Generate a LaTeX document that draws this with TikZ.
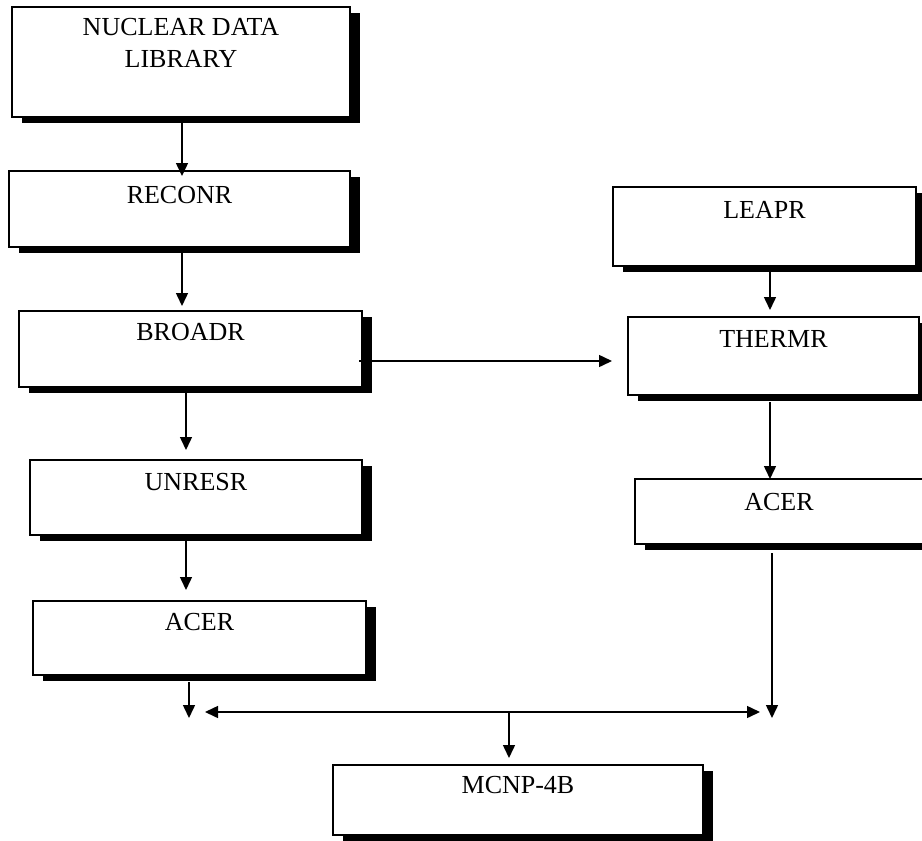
\documentclass[tikz,border=0pt]{standalone}
\usepackage{fontspec}
\setmainfont{Liberation Serif}
\usetikzlibrary{arrows.meta,shadows,calc}
\begin{document}
\begin{tikzpicture}[x=1pt,y=-1pt,
  box/.style={draw,line width=1.8pt,fill=white,anchor=north west,inner xsep=0pt,inner ysep=0pt,outer sep=0pt,
    font=\fontsize{26}{32}\selectfont,
    drop shadow={shadow xshift=10pt,shadow yshift=-6pt,fill=black,opacity=1,draw=none}},
  arr/.style={line width=1.5pt,-{Triangle[width=12pt,length=13pt]}},
  darr/.style={line width=1.5pt,{Triangle[width=12pt,length=13pt]}-{Triangle[width=12pt,length=13pt]}}]
\useasboundingbox[fill=white] (0,0) rectangle (922,841);

% left column
\node[box,minimum width=338pt,text height=28pt,text depth=82pt] (ndl) at (12,7)
  {\parbox[t]{330pt}{\centering NUCLEAR DATA\\LIBRARY}};
\node[box,minimum width=341pt,text height=32pt,text depth=44pt] (reconr) at (9,171) {RECONR};
\node[box,minimum width=343pt,text height=29pt,text depth=47pt] (broadr) at (19,311) {BROADR};
\node[box,minimum width=332pt,text height=30pt,text depth=45pt] (unresr) at (30,460) {UNRESR};
\node[box,minimum width=333pt,text height=29pt,text depth=45pt] (acerl) at (33,601) {ACER};

% right column
\node[box,minimum width=303pt,text height=31pt,text depth=48pt] (leapr) at (613,187) {LEAPR};
\node[box,minimum width=291pt,text height=30pt,text depth=48pt] (thermr) at (628,317) {THERMR};
\node[box,minimum width=288pt,text height=31pt,text depth=34pt] (acerr) at (635,479) {ACER};

% bottom
\node[box,minimum width=370pt,text height=28pt,text depth=42pt] (mcnp) at (333,765) {MCNP-4B};

\coordinate (jl) at (189,718);
\coordinate (jr) at (772,718);
\coordinate (hl) at (205,712);
\coordinate (hr) at (760,712);
\coordinate (jm) at (509,712);

% connectors
\draw[arr] ($(ndl.south)+(1,0)$) -- ($(ndl.south |- reconr.north)+(1,5)$);
\draw[arr] ($(reconr.south)+(2.5,6)$) -- ($(reconr.south |- broadr.north)+(2.5,-5)$);
\draw[arr] ($(broadr.south)+(-4.5,6)$) -- ($(broadr.south |- unresr.north)+(-4.5,-10)$);
\draw[arr] ($(unresr.south)+(-10,6)$) -- ($(unresr.south |- acerl.north)+(-10,-11)$);
\draw[arr] ($(acerl.south)+(-10.5,7)$) -- (jl);
\draw[arr] ($(broadr.east)+(-3,12)$) -- ($(thermr.west)+(-16,5)$);
\draw[arr] ($(leapr.south)+(5.5,6)$) -- ($(leapr.south |- thermr.north)+(5.5,-7)$);
\draw[arr] ($(thermr.south)+(-3.5,7)$) -- ($(thermr.south |- acerr.north)+(-3.5,0)$);
\draw[arr] ($(acerr.south)+(-7,9)$) -- (jr);
\draw[darr] (hl) -- (hr);
\draw[arr] (jm) -- ($(mcnp.north)+(-9,-7)$);
\end{tikzpicture}
\end{document}
